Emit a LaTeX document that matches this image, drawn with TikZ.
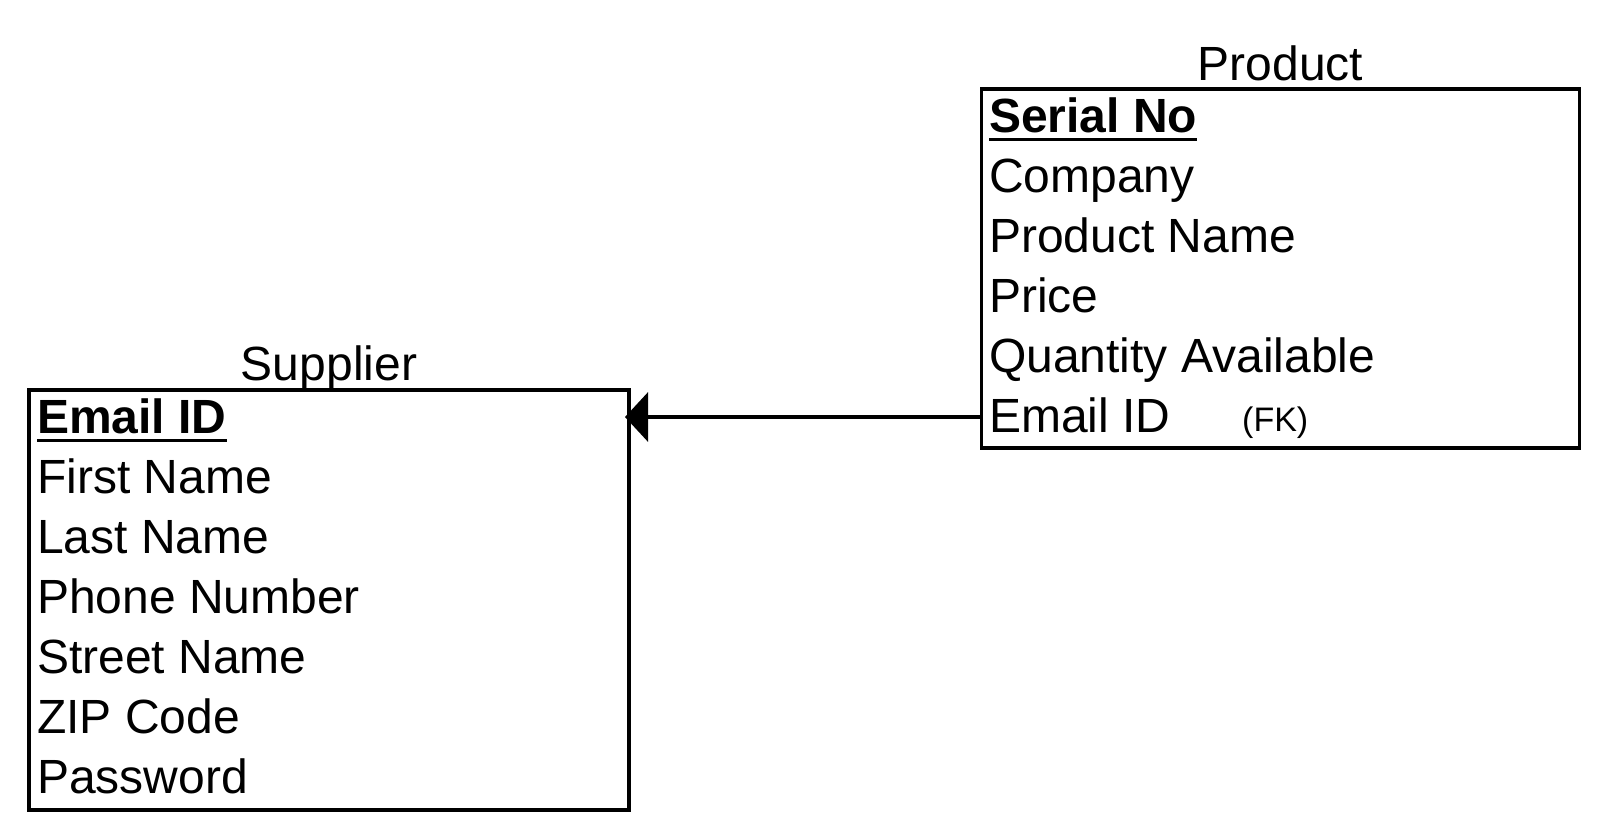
\documentclass[tikz,border=0pt]{standalone}
\usepackage{fontspec}
\setmainfont{Liberation Sans}
\usetikzlibrary{arrows.meta}
\begin{document}
\begin{tikzpicture}[x=1pt,y=-1pt,
  entbox/.style={draw, line width=3.5pt, rectangle, anchor=north west, inner sep=0pt, outer sep=0pt},
  attr/.style={anchor=base west, inner sep=0pt, font=\fontsize{48}{60}\selectfont},
  keyattr/.style={attr, font=\fontsize{48}{60}\selectfont\bfseries},
  fknote/.style={anchor=base west, inner sep=0pt, font=\fontsize{34}{40}\selectfont},
  enttitle/.style={anchor=base, inner sep=0pt, font=\fontsize{48}{60}\selectfont},
  ul/.style={line width=3.3pt},
  fkarrow/.style={line width=3.5pt, -{Triangle[length=23pt,width=49pt]}}]
\useasboundingbox (0,0) rectangle (1608,836);

% Supplier entity
\node[entbox, minimum width=600pt, minimum height=420pt] (sbox) at (29,390) {};
\node[enttitle] (stitle) at (329,380) {Supplier};
\node[keyattr] (s1) at (37,433) {Email ID};
\node[attr] (s2) at (37,493) {First Name};
\node[attr] (s3) at (37,553) {Last Name};
\node[attr] (s4) at (37,613) {Phone Number};
\node[attr] (s5) at (37,673) {Street Name};
\node[attr] (s6) at (37,733) {ZIP Code};
\node[attr] (s7) at (37,793) {Password};
\draw[ul] ([yshift=-7.7pt]s1.base west) -- ([yshift=-7.7pt]s1.base east);

% Product entity
\node[entbox, minimum width=598pt, minimum height=359pt] (pbox) at (981.5,89) {};
\node[enttitle] (ptitle) at (1280.5,80) {Product};
\node[keyattr] (p1) at (989,132) {Serial No};
\node[attr] (p2) at (989,192) {Company};
\node[attr] (p3) at (989,252) {Product Name};
\node[attr] (p4) at (989,312) {Price};
\node[attr] (p5) at (989,372) {Quantity Available};
\node[attr] (p6) at (989,432) {Email ID};
\node[fknote] (fk) at (1242,431) {(FK)};
\draw[ul] ([yshift=-7.7pt]p1.base west) -- ([yshift=-7.7pt]p1.base east);

% Relationship connector
\coordinate (fkpt) at (981.5,417);
\draw[fkarrow] (pbox.west |- fkpt) -- ([xshift=-4pt]sbox.east |- fkpt);
\end{tikzpicture}
\end{document}
